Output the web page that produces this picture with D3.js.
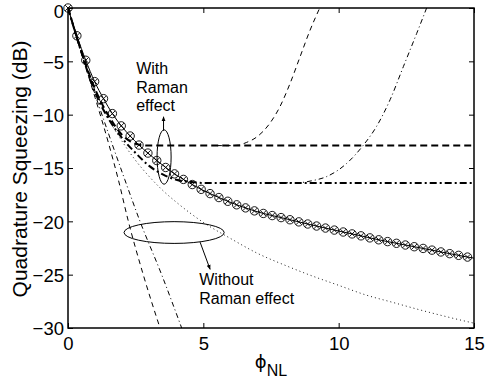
<!DOCTYPE html>
<html>
<head>
<meta charset="utf-8">
<script src="https://cdn.jsdelivr.net/npm/d3@7"></script>
<style>
  body { margin: 0; background: #fff; }
  svg { display: block; font-family: "Liberation Sans", Arial, Helvetica, sans-serif; }
</style>
</head>
<body>
<svg id="chart" width="485" height="381"></svg>
<script>
// ---- data ----
const xTicks = [0, 5, 10, 15];
const yTicks = [-30, -25, -20, -15, -10, -5, 0];

// solid line with circle markers
const markX = [0, 0.328, 0.656, 0.984, 1.312, 1.64, 1.968, 2.296, 2.624, 2.952, 3.28, 3.608, 3.936, 4.264,
  4.592, 4.92, 5.248, 5.576, 5.904, 6.232, 6.56, 6.888, 7.216, 7.544, 7.872, 8.2, 8.528, 8.856, 9.184,
  9.512, 9.84, 10.168, 10.496, 10.824, 11.152, 11.48, 11.808, 12.136, 12.464, 12.792, 13.12, 13.448,
  13.776, 14.104, 14.432, 14.76, 15];
const markY = [0, -2.6, -4.9, -6.9, -8.5, -9.9, -11.05, -12.0, -12.85, -13.6, -14.3, -14.95, -15.55, -16.07,
  -16.55, -17.0, -17.4, -17.77, -18.12, -18.45, -18.74, -19.02, -19.26, -19.46, -19.65, -19.85, -20.05,
  -20.25, -20.44, -20.63, -20.82, -21.0, -21.18, -21.36, -21.55, -21.73, -21.9, -22.06, -22.22, -22.38,
  -22.54, -22.7, -22.87, -23.03, -23.19, -23.35, -23.45];

// dotted, without Raman
const dotX = [0, 0.5, 1, 1.5, 2, 2.5, 3, 3.5, 4, 5, 6, 7, 8, 9, 10, 11, 12, 13, 14, 15];
const dotY = [0, -4.2, -7.7, -10.4, -12.5, -14.3, -15.8, -17.1, -18.2, -20.1, -21.6, -23.0, -24.1, -25.1,
  -26.0, -26.9, -27.6, -28.3, -28.95, -29.55];

// thin steep lines, without Raman
const steepDashX = [0, 0.5, 1, 1.5, 1.86, 2.23, 2.78, 3.4];
const steepDashY = [0, -4.3, -8.4, -12.7, -16.1, -20, -25, -30];
const steepDotDashX = [0, 0.5, 1, 1.5, 2.1, 2.66, 3.46, 4.2];
const steepDotDashY = [0, -4.2, -8.1, -11.8, -16.1, -20, -25, -30];

// thick lines, with Raman
const ramanDashX = [0, 0.5, 1, 1.5, 2, 2.3, 2.6, 2.9, 15];
const ramanDashY = [0, -4.1, -7.6, -10.1, -11.9, -12.5, -12.8, -12.9, -12.9];
const ramanDotDashX = [0, 0.5, 1, 1.5, 2, 2.5, 3, 3.5, 4, 4.5, 5, 15];
const ramanDotDashY = [0, -4.2, -7.9, -10.4, -12.2, -13.6, -14.8, -15.6, -16.1, -16.3, -16.4, -16.4];

// thin rising branches
const riseDashX = [5.5, 6.0, 6.3, 6.6, 6.97, 7.46, 7.83, 8.2, 8.57, 8.94, 9.3];
const riseDashY = [-12.9, -12.9, -12.85, -12.6, -12.1, -10.8, -9.25, -7.1, -4.6, -2.1, 0];
const riseDotDashX = [7.5, 8.5, 9.0, 9.56, 10.3, 10.9, 11.4, 11.9, 12.39, 12.88, 13.25];
const riseDotDashY = [-16.4, -16.38, -16.2, -15.8, -14.56, -12.9, -11.1, -8.6, -5.5, -2.4, 0];

// ---- layout ----
const m = { left: 68, right: 474, top: 8, bottom: 328 };
const svg = d3.select('#chart');

const x = d3.scaleLinear().domain([0, 15]).range([m.left, m.right]);
const y = d3.scaleLinear().domain([-30, 0]).range([m.bottom, m.top]);

const zip = (xs, ys) => xs.map((v, i) => [v, ys[i]]);
const line = d3.line().x(d => x(d[0])).y(d => y(d[1])).curve(d3.curveMonotoneX);

svg.append('clipPath').attr('id', 'clip')
  .append('rect').attr('x', m.left).attr('y', m.top)
  .attr('width', m.right - m.left).attr('height', m.bottom - m.top);

const plot = svg.append('g').attr('clip-path', 'url(#clip)');

const series = [
  { xs: dotX, ys: dotY, w: 0.9, dash: '1,3' },
  { xs: steepDashX, ys: steepDashY, w: 1, dash: '5,4' },
  { xs: steepDotDashX, ys: steepDotDashY, w: 1, dash: '5,3,1,3' },
  { xs: riseDashX, ys: riseDashY, w: 1, dash: '5,4' },
  { xs: riseDotDashX, ys: riseDotDashY, w: 1, dash: '5,3,1,3' },
  { xs: ramanDashX, ys: ramanDashY, w: 2, dash: '7,4' },
  { xs: ramanDotDashX, ys: ramanDotDashY, w: 2, dash: '7,3,2,3' },
  { xs: markX, ys: markY, w: 1, dash: null }
];

series.forEach(s => {
  plot.append('path')
    .datum(zip(s.xs, s.ys))
    .attr('fill', 'none')
    .attr('stroke', '#000')
    .attr('stroke-width', s.w)
    .attr('stroke-dasharray', s.dash)
    .attr('d', line);
});

// circle + cross markers (last point is line end only)
const marks = svg.append('g').selectAll('g')
  .data(zip(markX, markY).slice(0, markX.length - 1))
  .enter().append('g')
  .attr('transform', d => `translate(${x(d[0])},${y(d[1])})`)
  .attr('stroke', '#000').attr('fill', 'none').attr('stroke-width', 0.9);
marks.append('circle').attr('r', 4.2);
marks.append('path').attr('d', 'M-2.8,-2.8L2.8,2.8M-2.8,2.8L2.8,-2.8');

// ---- axes, MATLAB style: ticks inside, box on ----
const fs = '18.5px';
svg.append('g')
  .attr('transform', `translate(0,${m.bottom})`)
  .call(d3.axisBottom(x).tickValues(xTicks).tickSizeInner(-5).tickSizeOuter(0).tickPadding(9))
  .call(g => g.select('.domain').remove())
  .call(g => g.selectAll('text').attr('font-size', fs).attr('fill', '#000'));
svg.append('g')
  .attr('transform', `translate(${m.left},0)`)
  .call(d3.axisLeft(y).tickValues(yTicks).tickSizeInner(-5).tickSizeOuter(0).tickPadding(4))
  .call(g => g.select('.domain').remove())
  .call(g => g.selectAll('text').attr('font-size', fs).attr('fill', '#000')
    .attr('dy', d => d === 0 ? '0.5em' : '0.36em'));
svg.append('g')
  .attr('transform', `translate(0,${m.top})`)
  .call(d3.axisTop(x).tickValues(xTicks).tickSizeInner(-5).tickSizeOuter(0).tickFormat(''))
  .call(g => g.select('.domain').remove());
svg.append('g')
  .attr('transform', `translate(${m.right},0)`)
  .call(d3.axisRight(y).tickValues(yTicks).tickSizeInner(-5).tickSizeOuter(0).tickFormat(''))
  .call(g => g.select('.domain').remove());

svg.append('rect')
  .attr('x', m.left).attr('y', m.top).attr('width', m.right - m.left).attr('height', m.bottom - m.top)
  .attr('fill', 'none').attr('stroke', '#000').attr('stroke-width', 1.5);

// axis labels
svg.append('text')
  .attr('transform', `translate(27,${(m.top + m.bottom) / 2 + 1}) rotate(-90)`)
  .attr('text-anchor', 'middle')
  .attr('font-size', '21px')
  .text('Quadrature Squeezing (dB)');

const xl = svg.append('text')
  .attr('x', (m.left + m.right) / 2).attr('y', 368)
  .attr('text-anchor', 'middle')
  .attr('font-size', '18px');
xl.append('tspan').attr('font-family', 'DejaVu Sans').text('\u03D5');
xl.append('tspan').attr('dy', 8).attr('font-size', '16px').text('NL');

// ---- annotations (data coords) ----
svg.append('defs').append('marker')
  .attr('id', 'arr').attr('viewBox', '0 0 10 10').attr('refX', 9).attr('refY', 5)
  .attr('markerWidth', 5).attr('markerHeight', 5).attr('orient', 'auto')
  .append('path').attr('d', 'M0,1L10,5L0,9z').attr('fill', '#000');

const notes = [
  { cx: 3.55, cy: -13.97, rx: 0.26, ry: 2.55, a: [3.53, -11.5, 3.53, -10.2],
    tx: 2.52, lines: [[-6.2, 'With'], [-7.97, 'Raman'], [-9.66, 'effect']] },
  { cx: 3.92, cy: -21.05, rx: 1.85, ry: 1.02, a: [4.88, -21.95, 5.25, -24.5],
    tx: 4.85, lines: [[-25.97, 'Without'], [-27.75, 'Raman effect']] }
];
notes.forEach(n => {
  svg.append('ellipse')
    .attr('cx', x(n.cx)).attr('cy', y(n.cy))
    .attr('rx', x(n.rx) - x(0)).attr('ry', y(0) - y(n.ry))
    .attr('fill', 'none').attr('stroke', '#000').attr('stroke-width', 1);
  svg.append('line')
    .attr('x1', x(n.a[0])).attr('y1', y(n.a[1])).attr('x2', x(n.a[2])).attr('y2', y(n.a[3]))
    .attr('stroke', '#000').attr('stroke-width', 1).attr('marker-end', 'url(#arr)');
  n.lines.forEach(l => {
    svg.append('text').attr('x', x(n.tx)).attr('y', y(l[0]))
      .attr('font-size', '16px').text(l[1]);
  });
});
</script>
</body>
</html>
